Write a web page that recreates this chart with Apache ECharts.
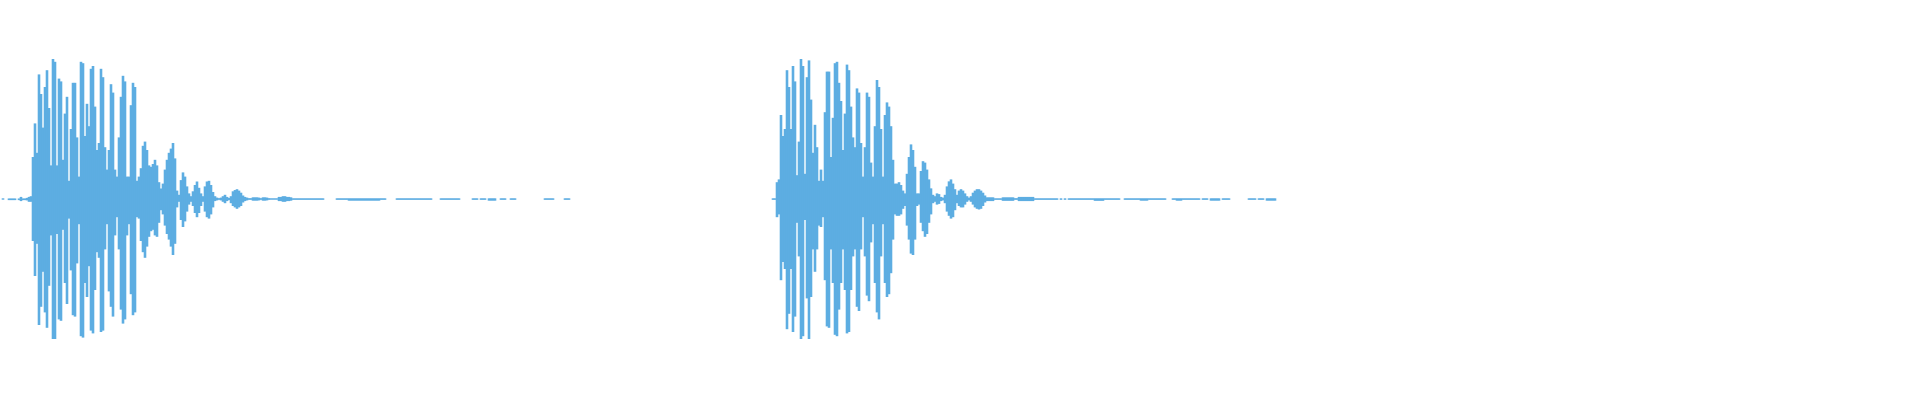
<!DOCTYPE html>
<html>
<head>
<meta charset="utf-8">
<title>waveform</title>
<script src="https://cdn.jsdelivr.net/npm/echarts@6/dist/echarts.min.js"></script>
<style>
    html, body { margin: 0; padding: 0; background: #fff; }
    #chart { width: 1920px; height: 400px; }
</style>
</head>
<body>
<div id="chart"></div>
<script>
// one column every 2px, amplitude in percent of full scale
let step = 2;

// first word
let burst1Start = 1;
let burst1Up = [
    0, 0.5, 0, 0, 0.4, 0.4, 0.4, 0.4, 0, 0.4,
    1.5, 0.4, 0.4, 0.8, 1.5, 2, 30, 54, 33, 89,
    75, 51, 80, 92, 65, 24, 100, 98, 24, 86,
    84, 28, 61, 73, 13, 50, 83, 83, 44, 16,
    98, 97, 45, 68, 52, 93, 95, 66, 35, 40,
    93, 87, 37, 21, 35, 82, 76, 21, 16, 44,
    73, 88, 84, 16, 16, 67, 83, 80, 13, 16,
    22, 38, 41, 35, 24, 23, 25, 28, 24, 12,
    7.5, 11, 21, 28, 33, 36, 40, 29, 6, 3,
    13.5, 19, 16, 9, 4, 2, 5.5, 10, 12.5, 8,
    4, 2, 9, 12.5, 13, 10, 5, 2, 1, 0.6,
    1, 2, 3, 1.5, 0.8, 2, 5.5, 6.4, 7, 6,
    4.5, 2.5, 1.5, 1, 0.6, 0.6, 1.2, 1.2, 1.2, 1,
    0.6, 1.2, 1.2, 1, 0.6, 0.5, 0.5, 0.5, 0.5, 1.5,
    1.5, 2, 2, 1.5, 1.5, 1.2, 0.5, 0.5, 0.5, 0.5,
    0.5, 0.5, 0.5, 0.5, 0.5, 0.5, 0.5, 0.5, 0.5, 0.5,
    0.5, 0.5, 0, 0, 0, 0, 0, 0, 0.5, 0.5,
    0.5, 0.5, 0.5, 0.5, 0.5, 0.5, 0.5, 0.5, 0.5, 0.5,
    0.5, 0.5, 0.5, 0.5, 0.5, 0.5, 0.5, 0.5, 0.5, 0.5,
    0.5, 0.5, 0.5, 0, 0, 0, 0, 0, 0.5, 0.5,
    0.5, 0.5, 0.5, 0.5, 0.5, 0.5, 0.5, 0.5, 0.5, 0.5,
    0.5, 0.5, 0.5, 0.5, 0.5, 0.5, 0, 0, 0, 0,
    0.5, 0.5, 0.5, 0.5, 0.5, 0.5, 0.5, 0.5, 0.5, 0.5,
    0, 0, 0, 0, 0, 0, 0.5, 0.5, 0.5, 0,
    0.5, 0.5, 0.5, 0, 0.5, 0.5, 0.5, 0.5, 0, 0,
    0.5, 0.5, 0.5, 0, 0, 0.5, 0.5, 0.5, 0, 0,
    0, 0, 0, 0, 0, 0, 0, 0, 0, 0,
    0, 0, 0.5, 0.5, 0.5, 0.5, 0.5, 0, 0, 0,
    0, 0, 0.5, 0.5, 0.5
];
let burst1Down = [
    0, 0.5, 0, 0, 0.8, 0.8, 0.8, 0.8, 0, 0.8,
    1.5, 0.8, 0.8, 1, 2, 2, 30, 55, 32, 90,
    77, 52, 81, 92, 62, 26, 100, 100, 25, 86,
    87, 22, 60, 75, 14, 51, 83, 84, 46, 18,
    98, 99, 60, 70, 48, 94, 96, 65, 38, 42,
    95, 94, 36, 18, 66, 77, 84, 26, 13, 36,
    79, 89, 86, 26, 18, 68, 83, 81, 13, 14,
    30, 38, 42, 34, 27, 23, 22, 26, 27, 17,
    8, 11, 19, 25, 29, 34, 40, 32, 6, 2,
    15, 20, 16, 9, 4, 2, 5, 10, 13, 10,
    5, 2, 9, 13, 14, 11, 6, 1.5, 1, 0.6,
    1, 2, 3, 1.5, 0.8, 3, 5, 6, 7, 6,
    5, 2.5, 1.5, 1, 0.6, 0.6, 1.2, 1.2, 1.2, 1,
    0.6, 1.2, 1.2, 1, 0.6, 0.5, 0.5, 0.5, 0.5, 1.5,
    1.5, 2, 2, 1.5, 1.5, 1.2, 0.6, 0.6, 0.6, 0.6,
    0.6, 0.6, 0.6, 0.6, 0.6, 0.6, 0.6, 0.6, 0.6, 0.6,
    0.6, 0.6, 0, 0, 0, 0, 0, 0, 0.6, 0.6,
    0.6, 0.6, 0.6, 0.6, 1.2, 1.2, 1.2, 1.2, 1.2, 1.2,
    1.2, 1.2, 1.2, 1.2, 1.2, 1.2, 1.2, 1.2, 1.2, 1.2,
    0.6, 0.6, 0.6, 0, 0, 0, 0, 0, 0.6, 0.6,
    0.6, 0.6, 0.6, 0.6, 0.6, 0.6, 0.6, 0.6, 0.6, 0.6,
    0.6, 0.6, 0.6, 0.6, 0.6, 0.6, 0, 0, 0, 0,
    0.6, 0.6, 0.6, 0.6, 0.6, 0.6, 0.6, 0.6, 0.6, 0.6,
    0, 0, 0, 0, 0, 0, 0.6, 0.6, 0.6, 0,
    0.6, 0.6, 0.6, 0, 1.2, 1.2, 1.2, 1.2, 0, 0,
    0.6, 0.6, 0.6, 0, 0, 0.6, 0.6, 0.6, 0, 0,
    0, 0, 0, 0, 0, 0, 0, 0, 0, 0,
    0, 0, 0.6, 0.6, 0.6, 0.6, 0.6, 0, 0, 0,
    0, 0, 0.6, 0.6, 0.6
];

// second word
let burst2Start = 773;
let burst2Up = [
    0.5, 0.5, 12, 14, 60, 45, 50, 92, 80, 50,
    95, 84, 17, 41, 100, 95, 18, 87, 99, 71,
    33, 53, 37, 13, 21, 13, 62, 91, 91, 30,
    58, 97, 98, 83, 70, 35, 61, 96, 92, 66,
    44, 37, 79, 76, 40, 16, 37, 76, 73, 26,
    16, 52, 85, 80, 50, 16, 60, 69, 66, 52,
    28, 11, 11, 12, 10, 6, 4, 18, 30, 39,
    35, 23, 4, 4, 20, 27, 26, 21, 14, 7.6,
    3, 2, 4, 3.5, 1.5, 1, 3, 9, 12.6, 14,
    11, 7, 3, 6, 7, 6, 4, 2, 1, 2,
    4.5, 6, 7, 7, 6, 4.5, 2.5, 1.2, 1.2, 1.2,
    1.2, 0.5, 0.5, 0.5, 0.5, 1.2, 1.2, 1.2, 1.2, 1.2,
    1.2, 0.6, 0.6, 1.5, 1.5, 1.5, 1.5, 1.5, 1.5, 1.5,
    1.5, 0.5, 0.5, 0.5, 0.5, 0.5, 0.5, 0.5, 0.5, 0.5,
    0.5, 0.5, 0.5, 0, 0.5, 0, 0.5, 0, 0.5, 0.5,
    0.5, 0.5, 0.5, 0.5, 0.5, 0.5, 0.5, 0.5, 0.5, 0.5,
    0.5, 0.5, 0.5, 0.5, 0.5, 0.5, 0.5, 0.5, 0.5, 0.5,
    0.5, 0.5, 0.5, 0.5, 0, 0, 0.5, 0.5, 0.5, 0.5,
    0.5, 0.5, 0.5, 0.5, 0.5, 0.5, 0.5, 0.5, 0.5, 0.5,
    0.5, 0.5, 0.5, 0.5, 0.5, 0.5, 0.5, 0, 0, 0,
    0.5, 0.5, 0.5, 0.5, 0.5, 0.5, 0.5, 0.5, 0.5, 0.5,
    0.5, 0.5, 0.5, 0.5, 0, 0.5, 0.5, 0.5, 0, 0.5,
    0.5, 0.5, 0.5, 0.5, 0, 0.5, 0.5, 0.5, 0.5, 0,
    0, 0, 0, 0, 0, 0, 0, 0, 0.5, 0.5,
    0.5, 0.5, 0, 0.5, 0.5, 0.5, 0, 0.5, 0.5, 0.5,
    0.5, 0.5, 0
];
let burst2Down = [
    0.6, 0.6, 13, 11, 58, 45, 50, 93, 82, 50,
    95, 84, 17, 41, 100, 98, 15, 71, 100, 70,
    36, 52, 36, 19, 20, 13, 58, 91, 92, 36,
    60, 97, 98, 79, 60, 36, 65, 96, 95, 65,
    41, 36, 77, 80, 36, 13, 41, 69, 73, 31,
    18, 60, 81, 86, 41, 18, 60, 70, 68, 53,
    29, 11, 12, 12, 11, 7, 5, 19, 29, 39,
    40, 29, 5, 4, 17, 23, 27, 25, 17, 11,
    3, 2, 4, 3.5, 1.5, 1, 3, 9, 12, 14,
    13, 8, 3, 5, 6, 6, 4, 2, 1, 2,
    4, 6, 7, 7.5, 7, 5, 2.5, 1.5, 1.5, 1.5,
    1.5, 0.6, 0.6, 0.6, 0.6, 1.3, 1.3, 1.3, 1.3, 1.3,
    1.3, 0.6, 0.6, 1.5, 1.5, 1.5, 1.5, 1.5, 1.5, 1.5,
    1.5, 0.6, 0.6, 0.6, 0.6, 0.6, 0.6, 0.6, 0.6, 0.6,
    0.6, 0.6, 0.6, 0, 0.6, 0, 0.6, 0, 0.6, 0.6,
    0.6, 0.6, 0.6, 0.6, 0.6, 0.6, 0.6, 0.6, 0.6, 0.6,
    0.6, 1.3, 1.3, 1.3, 1.3, 1.3, 0.6, 0.6, 0.6, 0.6,
    0.6, 0.6, 0.6, 0.6, 0, 0, 0.6, 0.6, 0.6, 0.6,
    0.6, 0.6, 0.6, 0.6, 1.2, 1.2, 1.2, 1.2, 0.6, 0.6,
    0.6, 0.6, 0.6, 0.6, 0.6, 0.6, 0.6, 0, 0, 0,
    0.6, 0.6, 1.2, 1.2, 1.2, 0.6, 0.6, 0.6, 0.6, 0.6,
    0.6, 0.6, 0.6, 0.6, 0, 0.6, 0.6, 0.6, 0, 1.2,
    1.2, 1.2, 1.2, 1.2, 0, 0.6, 0.6, 0.6, 0.6, 0,
    0, 0, 0, 0, 0, 0, 0, 0, 0.6, 0.6,
    0.6, 0.6, 0, 0.6, 0.6, 0.6, 0, 1.2, 1.2, 1.2,
    1.2, 1.2, 0
];

let waveColor = '#5dade2';

// [x, value] pairs; down side goes below zero
let toPoints = function (start, arr, sign) {
    return arr.map(function (v, i) {
        return [start + i * step, sign * v];
    });
};

let upData = toPoints(burst1Start, burst1Up, 1).concat(toPoints(burst2Start, burst2Up, 1));
let downData = toPoints(burst1Start, burst1Down, -1).concat(toPoints(burst2Start, burst2Down, -1));

let chart = echarts.init(document.getElementById('chart'));
chart.setOption({
    animation: false,
    grid: { left: 0, right: 0, top: 59, bottom: 61 },
    xAxis: {
        type: 'value',
        min: 0,
        max: 1920,
        show: false
    },
    yAxis: {
        type: 'value',
        min: -100,
        max: 100,
        show: false
    },
    series: [{
        name: 'up',
        type: 'bar',
        stack: 'wave',
        barWidth: 2.6,
        itemStyle: { color: waveColor },
        data: upData
    }, {
        name: 'down',
        type: 'bar',
        stack: 'wave',
        barWidth: 2.6,
        itemStyle: { color: waveColor },
        data: downData
    }]
});
</script>
</body>
</html>
